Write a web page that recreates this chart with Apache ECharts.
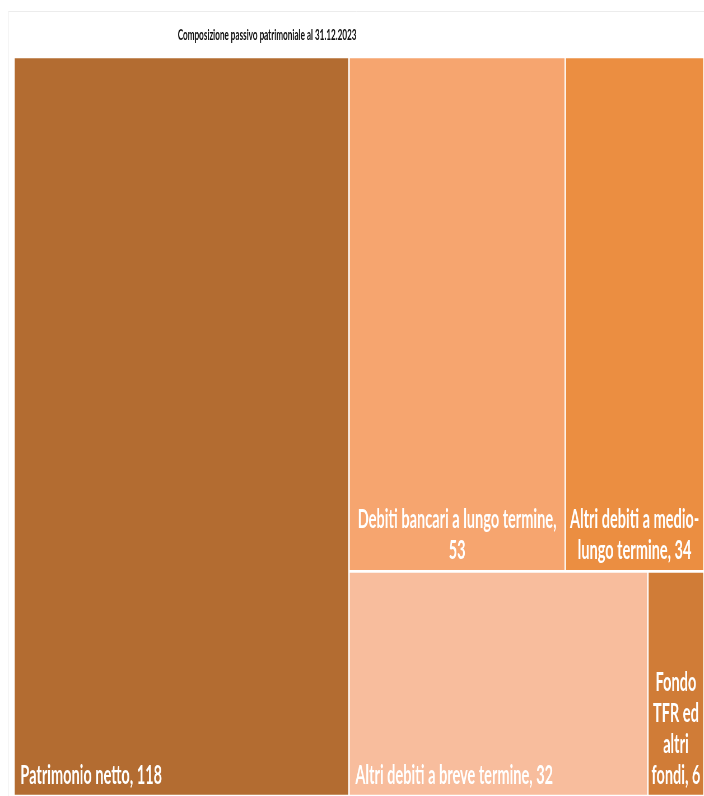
<!DOCTYPE html>
<html>
<head>
<meta charset="utf-8">
<style>
  html, body { margin: 0; padding: 0; background: #ffffff; }
  /* The chart is laid out on a wider canvas and condensed horizontally,
     which gives the tall, narrow lettering of the original report. */
  #frame { width: 704px; height: 796px; overflow: hidden; }
  #chart { width: 1257px; height: 796px; transform: scaleX(0.56); transform-origin: 0 0; }
</style>
<script src="https://cdn.jsdelivr.net/npm/echarts@6/dist/echarts.min.js"></script>
</head>
<body>
<div id="frame"><div id="chart"></div></div>
<script>
// Liabilities composition at 31.12.2023
const names = [
  'Patrimonio netto',
  'Debiti bancari a lungo termine',
  'Altri debiti a medio-lungo termine',
  'Altri debiti a breve termine',
  'Fondo TFR ed altri fondi'
];
const values = [118, 53, 34, 32, 6];
const colors = ['#B36C31', '#F6A56F', '#EB8E41', '#F8BD9D', '#D07C37'];
// How each label wraps: '|' marks a line break, {v} the value
const labelLines = [
  'Patrimonio netto, {v}',
  'Debiti bancari a lungo termine,|{v}',
  'Altri debiti a medio-|lungo termine, {v}',
  'Altri debiti a breve termine, {v}',
  'Fondo|TFR ed|altri|fondi, {v}'
];
const labelPos = ['insideBottomLeft', 'insideBottom', 'insideBottom', 'insideBottomLeft', 'insideBottom'];

const FONT = 'Lato, "Noto Sans", sans-serif';

function leaf(i) {
  return {
    name: names[i],
    value: values[i],
    itemStyle: { color: colors[i], borderColor: '#ffffff', borderWidth: 1.3 },
    label: {
      show: true,
      position: labelPos[i],
      formatter: labelLines[i].replace('{v}', values[i]).split('|').join('\n')
    }
  };
}

// Equity as one column; debts grouped as a medium/long-term row and a short-term row
const treeData = [
  leaf(0),
  {
    name: 'Debiti',
    children: [
      { name: 'Medio-lungo termine', children: [leaf(1), leaf(2)] },
      { name: 'Breve termine', children: [leaf(3), leaf(4)] }
    ]
  }
];

const chart = echarts.init(document.getElementById('chart'), null, { renderer: 'canvas' });
chart.setOption({
  animation: false,
  backgroundColor: '#ffffff',
  title: {
    text: 'Composizione passivo patrimoniale al 31.12.2023',
    left: 477,
    textAlign: 'center',
    top: 28,
    padding: 0,
    textStyle: { fontFamily: FONT, fontSize: 14.5, fontWeight: 'bold', color: '#111111' }
  },
  graphic: [{
    type: 'rect',
    shape: { x: 15, y: 11.5, width: 1400, height: 840 },
    style: { fill: 'none', stroke: '#ececec', lineWidth: 1 },
    silent: true,
    z: -1
  }],
  series: [{
    type: 'treemap',
    left: 25,
    top: 57,
    right: 0,
    bottom: 0,
    sort: false,
    squareRatio: 1,
    roam: false,
    nodeClick: false,
    breadcrumb: { show: false },
    itemStyle: { borderWidth: 0, gapWidth: 0, borderColor: '#ffffff' },
    upperLabel: { show: false },
    label: {
      color: '#ffffff',
      fontFamily: FONT,
      fontSize: 26,
      fontWeight: 'bold',
      lineHeight: 31,
      distance: 5,
      offset: [0, 6],
      overflow: 'none'
    },
    levels: [
      { itemStyle: { borderWidth: 0, gapWidth: 0 } },
      { itemStyle: { borderWidth: 0, gapWidth: 0 } },
      { itemStyle: { borderWidth: 0, gapWidth: 0 } },
      { itemStyle: { borderWidth: 1.3, gapWidth: 0, borderColor: '#ffffff' } }
    ],
    data: treeData
  }]
});
</script>
</body>
</html>
